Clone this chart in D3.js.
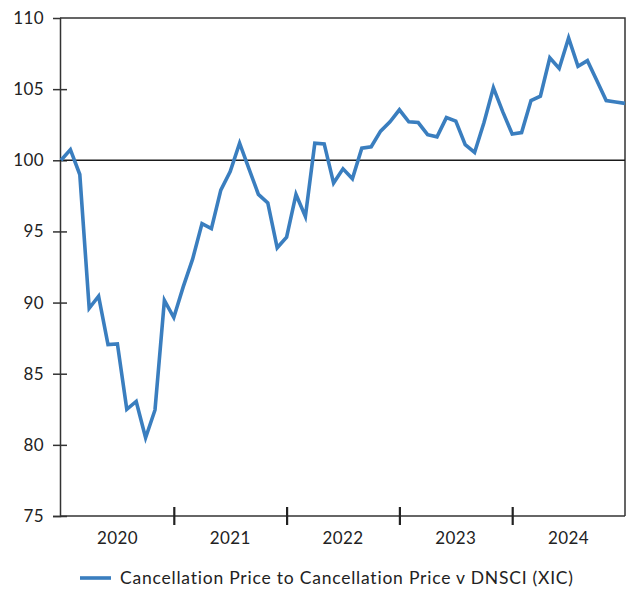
<!DOCTYPE html>
<html>
<head>
<meta charset="utf-8">
<script src="https://cdn.jsdelivr.net/npm/d3@7"></script>
<style>
  html, body { margin: 0; padding: 0; background: #fff; }
  svg { display: block; }
  text { font-family: Lato, "Open Sans", sans-serif; fill: #222; }
</style>
</head>
<body>
<svg id="chart" width="628" height="595"></svg>
<script>
// Monthly index values, Jan 2020 .. Jan 2025
const startMonth = "2020-01";
const values = [
  100.0, 100.75, 99.0, 89.6, 90.45, 87.05, 87.1, 82.5, 83.05, 80.5, 82.45, 90.15,
  88.95, 91.1, 93.05, 95.55, 95.2, 97.9, 99.2, 101.2, 99.4, 97.6, 97.0, 93.85,
  94.6, 97.6, 96.05, 101.2, 101.15, 98.4, 99.4, 98.7, 100.85, 100.95, 102.05, 102.7,
  103.55, 102.7, 102.65, 101.8, 101.65, 103.0, 102.75, 101.1, 100.55, 102.65, 105.1, 103.4,
  101.85, 101.95, 104.2, 104.5, 107.2, 106.45, 108.6, 106.6, 107.0, 105.6, 104.2, 104.1,
  104.0
];
const yearLabels = ["2020", "2021", "2022", "2023", "2024"];
const yTicks = [75, 80, 85, 90, 95, 100, 105, 110];
const referenceValue = 100;
const seriesName = "Cancellation Price to Cancellation Price v DNSCI (XIC)";

const svg = d3.select("#chart");
const mLeft = 60, mRight = 625, mTop = 18, mBottom = 516;

const x = d3.scaleLinear().domain([0, values.length - 1]).range([mLeft + 1, mRight]);
const y = d3.scaleLinear().domain([75, 110]).range([mBottom, mTop]);

const axisColor = "#333";

// Frame (top & right)
svg.append("path")
  .attr("d", `M${mLeft},${mTop}H${mRight}V${mBottom}`)
  .attr("fill", "none").attr("stroke", axisColor).attr("stroke-width", 1.5);

// Y axis
const yAxis = svg.append("g").attr("transform", `translate(${mLeft},0)`)
  .call(d3.axisLeft(y).tickValues(yTicks).tickSize(7).tickPadding(9).tickFormat(d3.format("d")));
yAxis.select(".domain").attr("stroke", axisColor).attr("stroke-width", 1.5);
yAxis.selectAll(".tick line").attr("stroke", axisColor).attr("stroke-width", 1.5)
  .attr("x1", 7).attr("x2", -7)
  .attr("display", d => (d === 110 ? "none" : null));
yAxis.selectAll(".tick text").attr("font-size", 17).attr("fill", "#222")
  .style("font-family", "Lato, 'Open Sans', sans-serif")
  .style("letter-spacing", "0.4px");

// X axis: year boundaries at month 12, 24, 36, 48
const boundaries = yearLabels.slice(1).map((_, i) => (i + 1) * 12);
const xAxis = svg.append("g").attr("transform", `translate(0,${mBottom})`)
  .call(d3.axisBottom(x).tickValues(boundaries).tickSize(9).tickFormat(""));
xAxis.select(".domain").attr("stroke", axisColor).attr("stroke-width", 1.5)
  .attr("d", `M${mLeft},0H${mRight}`);
xAxis.selectAll(".tick line").attr("stroke", "#222").attr("stroke-width", 2.2)
  .attr("y1", -9).attr("y2", 9);

// Year labels centered in each year
svg.append("g").selectAll("text").data(yearLabels).join("text")
  .attr("x", (d, i) => x(i * 12 + 6))
  .attr("y", 538)
  .attr("dy", "0.35em")
  .attr("text-anchor", "middle")
  .attr("font-size", 17)
  .style("letter-spacing", "0.4px")
  .text(d => d);

// Reference line at 100
svg.append("line")
  .attr("x1", mLeft).attr("x2", mRight)
  .attr("y1", y(referenceValue)).attr("y2", y(referenceValue))
  .attr("stroke", "#1a1a1a").attr("stroke-width", 1.6);

// Series line
const line = d3.line().x((d, i) => x(i)).y(d => y(d));
svg.append("path").datum(values)
  .attr("d", line)
  .attr("fill", "none")
  .attr("stroke", "#3a7ebf")
  .attr("stroke-width", 3.6)
  .attr("stroke-linejoin", "miter");

// Legend
const lg = svg.append("g").attr("transform", "translate(80,578)");
lg.append("line").attr("x1", 0).attr("x2", 31).attr("y1", 0).attr("y2", 0)
  .attr("stroke", "#3a7ebf").attr("stroke-width", 3.6);
lg.append("text").attr("x", 40).attr("y", 0).attr("dy", "0.35em")
  .attr("font-size", 17.5)
  .style("letter-spacing", "0.78px")
  .text(seriesName);
</script>
</body>
</html>
